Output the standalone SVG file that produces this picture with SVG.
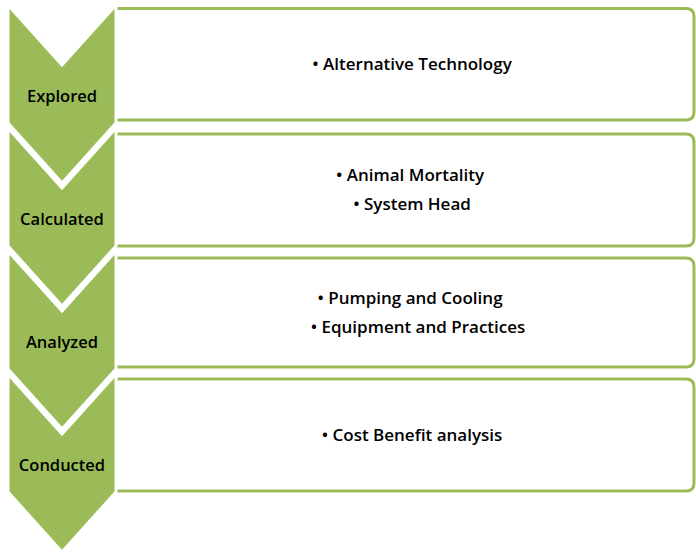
<svg xmlns="http://www.w3.org/2000/svg" width="696" height="554" viewBox="0 0 696 554">
  <style>
    .box { fill: #ffffff; stroke: #9bbb59; stroke-width: 3; }
    .chev { fill: #9bbb59; stroke: #ffffff; stroke-width: 3; stroke-linejoin: miter; }
    .lbl { font-family: "Open Sans", "Liberation Sans", sans-serif; font-size: 16.5px; font-weight: 600; fill: #000000; text-anchor: middle; }
    .item { font-family: "Open Sans", "Liberation Sans", sans-serif; font-size: 17px; font-weight: 600; fill: #000000; text-anchor: middle; }
  </style>

  <!-- content panels: open on the left, rounded on the right -->
  <g id="panels">
    <path class="box" d="M116,8.5 H686 Q694,8.5 694,16.5 V112 Q694,120 686,120 H116"/>
    <path class="box" d="M116,134 H686 Q694,134 694,142 V238 Q694,246 686,246 H116"/>
    <path class="box" d="M116,258 H686 Q694,258 694,266 V359 Q694,367 686,367 H116"/>
    <path class="box" d="M116,379 H686 Q694,379 694,387 V483 Q694,491 686,491 H116"/>
  </g>

  <!-- step chevrons pointing down -->
  <g id="step-explored">
    <path class="chev" d="M8,5 L62,65 L116,5 V123 L62,183 L8,123 Z"/>
    <text class="lbl" x="62" y="102">Explored</text>
  </g>
  <g id="step-calculated">
    <path class="chev" d="M8,128 L62,188 L116,128 V246 L62,306 L8,246 Z"/>
    <text class="lbl" x="62" y="225">Calculated</text>
  </g>
  <g id="step-analyzed">
    <path class="chev" d="M8,251 L62,311 L116,251 V369 L62,429 L8,369 Z"/>
    <text class="lbl" x="62" y="348">Analyzed</text>
  </g>
  <g id="step-conducted">
    <path class="chev" d="M8,374 L62,434 L116,374 V492 L62,552 L8,492 Z"/>
    <text class="lbl" x="62" y="471">Conducted</text>
  </g>

  <!-- panel contents -->
  <g id="items-explored">
    <text class="item" x="412" y="70">• Alternative Technology</text>
  </g>
  <g id="items-calculated">
    <text class="item" x="410" y="181">• Animal Mortality</text>
    <text class="item" x="412" y="210">• System Head</text>
  </g>
  <g id="items-analyzed">
    <text class="item" x="410" y="304">• Pumping and Cooling</text>
    <text class="item" x="418" y="333">• Equipment and Practices</text>
  </g>
  <g id="items-conducted">
    <text class="item" x="412" y="441">• Cost Benefit analysis</text>
  </g>
</svg>
